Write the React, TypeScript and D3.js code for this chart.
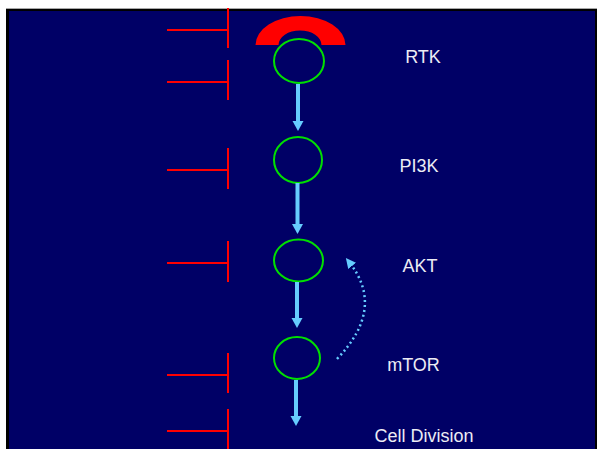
import React from "react";
import * as d3 from "d3";

const nodeLabels = ["RTK", "PI3K", "AKT", "mTOR"];
const endLabel = "Cell Division";

// layout (pixels)
const W = 597, H = 449;
const nodeCx = [299, 298, 298.5, 297];
const nodeCy = [61, 160, 260.5, 358];
const nodeRx = [25, 24, 24.5, 23];
const nodeRy = [22, 23, 21, 21];
const labelX = [423, 419, 420, 413.5, 424];
const labelY = [62.5, 171.5, 271.5, 370.5, 441.5];
const arrowX = [298, 297.5, 297, 296];
const arrowY0 = [84, 183, 282, 380];
const arrowY1 = [131, 234, 328, 426];
const inhibitorTop = [8, 60, 148, 241, 353, 409];
const inhibitorBottom = [48, 100, 189, 282, 393, 460];
const inhibitorY = [30, 82, 170, 263, 375, 431];

const NAVY = "#000066";
const BLUE = "#66ccff";
const RED = "#ff0000";
const GREEN = "#00e000";

export default function App() {
  const curve = d3.path();
  curve.moveTo(337, 359);
  curve.quadraticCurveTo(386, 308, 349, 262);

  return (
    <svg width={W} height={H} style={{ position: "fixed", left: 0, top: 0 }}>
      <defs>
        <marker id="dh" viewBox="0 0 10 10" refX="5" refY="5" markerWidth="4" markerHeight="4" orient="auto">
          <path d="M0,0 L10,5 L0,10 Z" fill={BLUE} />
        </marker>
      </defs>
      <rect x={0} y={0} width={W} height={H} fill="#ffffff" />
      <rect x={6} y={8} width={591} height={H} fill="#000000" />
      <rect x={6} y={8} width={591} height={1} fill="#a8a8a8" />
      <rect x={9} y={11} width={586} height={H} fill={NAVY} />

      {inhibitorTop.map((t, i) => (
        <g key={"inh" + i} stroke={RED} strokeWidth={2}>
          <line x1={228} x2={228} y1={t} y2={inhibitorBottom[i]} />
          <line x1={167} x2={228} y1={inhibitorY[i]} y2={inhibitorY[i]} />
        </g>
      ))}

      <path d="M 255.5 45 A 45 29 0 0 1 345.5 45 L 321.5 45 A 21.5 14.5 0 0 0 278.5 45 Z" fill={RED} />

      {nodeLabels.map((n, i) => (
        <ellipse key={"c" + i} cx={nodeCx[i]} cy={nodeCy[i]} rx={nodeRx[i]} ry={nodeRy[i]}
          fill="none" stroke={GREEN} strokeWidth={2} />
      ))}

      {arrowX.map((x, i) => (
        <g key={"a" + i} fill={BLUE}>
          <rect x={x - 2} y={arrowY0[i]} width={4} height={arrowY1[i] - arrowY0[i] - 9} />
          <path d={`M${x - 5.5},${arrowY1[i] - 10} L${x + 5.5},${arrowY1[i] - 10} L${x},${arrowY1[i]} Z`} />
        </g>
      ))}

      <path d={curve.toString()} fill="none" stroke={BLUE} strokeWidth={2.5}
        strokeDasharray="2 3" markerEnd="url(#dh)" />

      {[...nodeLabels, endLabel].map((t, i) => (
        <text key={"t" + i} x={labelX[i]} y={labelY[i]} textAnchor="middle"
          fontFamily="Liberation Sans, Arial, sans-serif" fontSize={18} fill="#ececf4">
          {t}
        </text>
      ))}
    </svg>
  );
}
